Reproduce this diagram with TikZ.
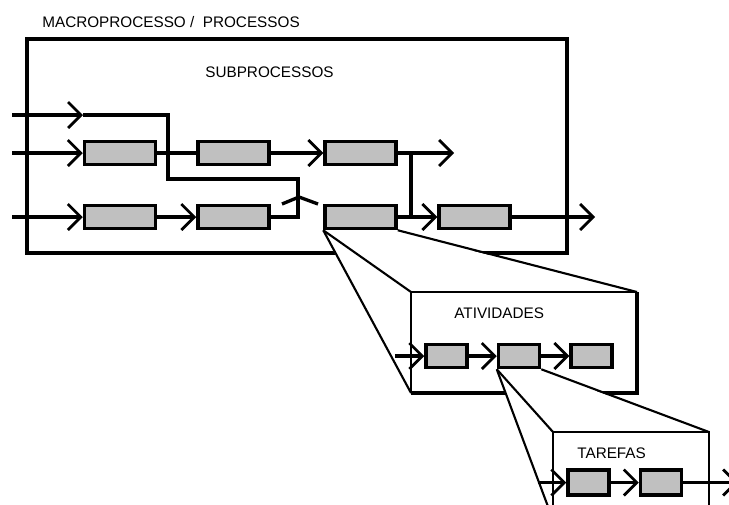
\documentclass[tikz,border=0pt]{standalone}
\usepackage{fontspec}
\setmainfont{Liberation Sans}
\usetikzlibrary{arrows.meta,positioning}
\definecolor{boxgray}{HTML}{C0C0C0}
\tikzset{
  >={Straight Barb[length=0.26cm,width=0.52cm,line width=1.6pt]},
  flow/.style={line width=1.9pt},
  cone/.style={line width=1.2pt},
  frame/.style={line width=1.9pt},
  sub/.style={draw,line width=2pt,fill=boxgray,minimum width=1.42cm,minimum height=0.46cm,inner sep=0},
  atv/.style={sub,minimum width=0.82cm},
  tsk/.style={sub,minimum width=0.82cm,minimum height=0.5cm},
  lbl/.style={font=\fontsize{8.7}{10}\selectfont,inner sep=0}
}
\begin{document}
\begin{tikzpicture}[x=0.02cm,y=-0.02cm]
  \clip (0,0) rectangle (729,504);

  % processo
  \node[lbl,anchor=base west] (macro) at (42,27) {MACROPROCESSO /~ PROCESSOS};
  \node[lbl,anchor=base west] (subp) at (205,77) {SUBPROCESSOS};
  \draw[frame] (27,39) rectangle (567,253);

  \node[sub] (b21) at (120,153) {};
  \node[sub] (b22) at (233.5,153) {};
  \node[sub] (b23) at (360.5,153) {};
  \node[sub] (b31) at (120,217) {};
  \node[sub] (b32) at (233.5,217) {};
  \node[sub] (b33) at (360.5,217) {};
  \node[sub] (b34) at (474.5,217) {};

  \coordinate (in1) at (12,115);
  \coordinate (in2) at (12,153);
  \coordinate (in3) at (12,217);
  \coordinate (r1a) at (83,115);
  \coordinate (out2) at (454,153);
  \coordinate (out3) at (595,217);
  \coordinate (j1) at (411,153);
  \coordinate (j2) at (411,217);

  \draw[flow,->] (in1) -- (r1a);
  \draw[flow] (r1a) -- (168,115) -- (168,179) -- (298,179) -- (298,217) -- (b32.east);
  \draw[flow] (282,204) -- (299,197) -- (318,204);

  \draw[flow,->] (in2) -- (b21);
  \draw[flow] (b21) -- (b22);
  \draw[flow,->] (b22) -- (b23);
  \draw[flow,->] (b23) -- (out2);
  \draw[flow] (j1) -- (j2);

  \draw[flow,->] (in3) -- (b31);
  \draw[flow,->] (b31) -- (b32);
  \draw[flow,->] (b33) -- (b34);
  \draw[flow,->] (b34) -- (out3);

  % atividades
  \coordinate (aNW) at (411,292);
  \coordinate (aNE) at (637,292);
  \coordinate (aSE) at (637,393);
  \coordinate (aSW) at (411,393);
  \fill[white] ([yshift=-1pt]b33.south west) -- ([yshift=-1pt]b33.south east)
    -- (aNE) -- (aSE) -- (aSW) -- cycle;
  \draw[cone] (b33.south west) -- (aNW);
  \draw[cone] (b33.south west) -- (aSW);
  \draw[cone] (b33.south east) -- (aNE);
  \draw[line width=1.2pt] (aSW) -- (aNW) -- (aNE);
  \draw[frame] (aNE) -- (aSE) -- (aSW);
  \node[lbl,anchor=base west] (ativ) at (454,318) {ATIVIDADES};

  \node[atv] (a1) at (446.5,356) {};
  \node[atv,right=0.56cm of a1] (a2) {};
  \node[atv,right=0.56cm of a2] (a3) {};
  \coordinate (ain) at (395,356);
  \draw[flow,->] (ain) -- (a1);
  \draw[flow,->] (a1) -- (a2);
  \draw[flow,->] (a2) -- (a3);

  % tarefas
  \coordinate (tNW) at (553,432);
  \coordinate (tNE) at (709,432);
  \coordinate (tSE) at (709,520);
  \coordinate (tSW) at (553,520);
  \fill[white] ([yshift=-1pt]a2.south west) -- ([yshift=-1pt]a2.south east)
    -- (tNE) -- (tSE) -- (tSW) -- cycle;
  \draw[cone] (a2.south west) -- (tNW);
  \draw[cone] (a2.south west) -- (tSW);
  \draw[cone] (a2.south east) -- (tNE);
  \draw[line width=1.3pt] (tSW) -- (tNW) -- (tNE) -- (tSE);
  \node[lbl,anchor=base west] (tar) at (577,458) {TAREFAS};

  \node[tsk] (t1) at (588.5,482.5) {};
  \node[tsk,right=0.56cm of t1] (t2) {};
  \coordinate (tin) at (538,482.5);
  \coordinate (tout) at (738,482.5);
  \draw[flow,->] (tin) -- (t1);
  \draw[flow,->] (t1) -- (t2);
  \draw[flow,->] (t2) -- (tout);
\end{tikzpicture}
\end{document}
